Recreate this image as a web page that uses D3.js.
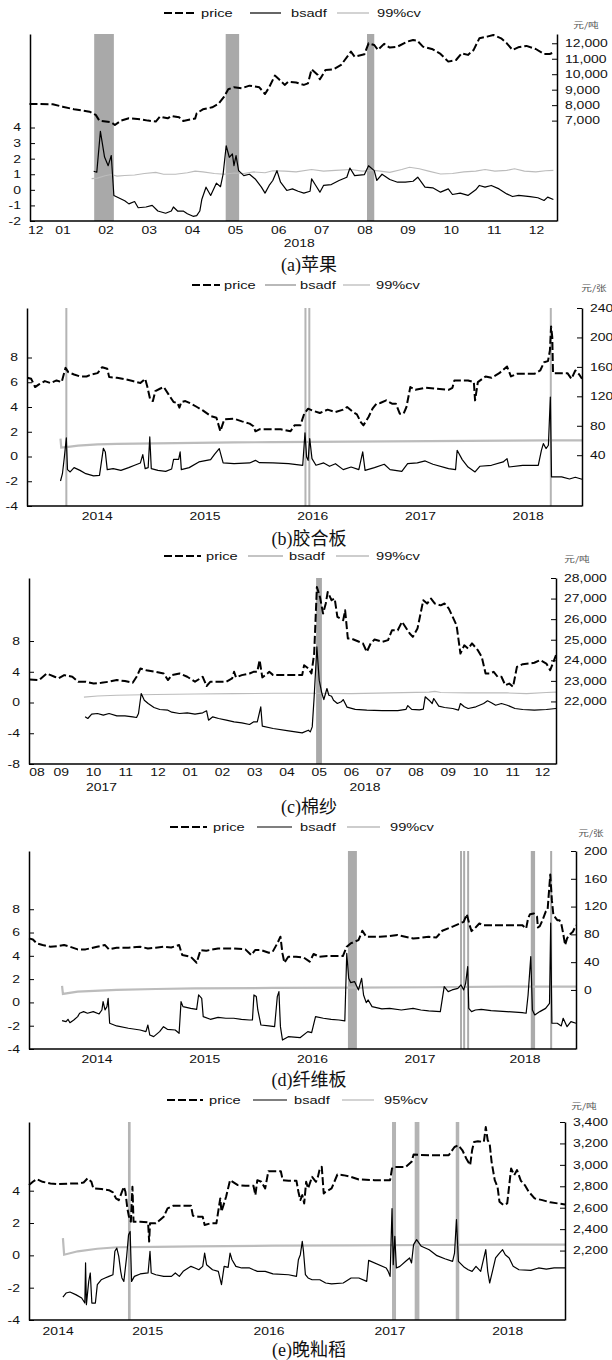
<!DOCTYPE html>
<html>
<head>
<meta charset="utf-8">
<script src="https://cdn.jsdelivr.net/npm/d3@7"></script>
<style>
  body { margin: 0; background: #fff; }
  svg text { fill: #111; }
</style>
</head>
<body>
<script>
// x values are decimal years, left axis = bsadf / cv, right axis = price

// (a) apple
const applePrice = [[2017.977,8080],[2018.022,8060],[2018.041,7900],[2018.063,7730],[2018.093,7580],[2018.105,7370],[2018.112,7000],[2018.135,6890],[2018.142,6720],[2018.154,7000],[2018.169,7150],[2018.191,7090],[2018.206,7000],[2018.221,6940],[2018.229,7260],[2018.244,7150],[2018.251,7300],[2018.266,7215],[2018.274,6980],[2018.297,7130],[2018.300,7475],[2018.312,7730],[2018.330,7860],[2018.342,8080],[2018.353,8550],[2018.361,9030],[2018.372,9155],[2018.387,9090],[2018.402,9260],[2018.421,9155],[2018.432,8720],[2018.440,9155],[2018.451,9910],[2018.459,9670],[2018.470,9310],[2018.477,9520],[2018.492,9460],[2018.507,9310],[2018.515,9410],[2018.522,10320],[2018.534,9950],[2018.538,9670],[2018.549,10280],[2018.564,10320],[2018.579,10600],[2018.598,11460],[2018.605,11140],[2018.624,11290],[2018.632,12000],[2018.643,11890],[2018.650,11570],[2018.662,11960],[2018.673,11720],[2018.688,11785],[2018.707,12110],[2018.718,12215],[2018.726,12170],[2018.737,11785],[2018.756,11610],[2018.771,11310],[2018.786,10815],[2018.801,10920],[2018.812,11350],[2018.824,11250],[2018.835,11570],[2018.846,12320],[2018.861,12430],[2018.873,12540],[2018.888,12320],[2018.899,12000],[2018.910,11570],[2018.921,11740],[2018.937,11830],[2018.955,11630],[2018.971,11310],[2018.982,11310],[2018.989,11400]];
const appleBsadf = [[2018.101,1.19],[2018.107,1.13],[2018.114,3.75],[2018.122,2.1],[2018.129,1.55],[2018.135,2.2],[2018.140,-0.36],[2018.161,-0.7],[2018.169,-0.9],[2018.180,-0.75],[2018.187,-1.15],[2018.202,-1.1],[2018.214,-1.0],[2018.225,-1.36],[2018.240,-1.5],[2018.251,-1.36],[2018.255,-1.1],[2018.263,-1.36],[2018.274,-1.36],[2018.282,-1.53],[2018.293,-1.7],[2018.300,-1.66],[2018.306,-1.36],[2018.310,-0.6],[2018.318,0.17],[2018.327,-0.36],[2018.338,0.43],[2018.346,0.2],[2018.351,1.0],[2018.357,2.83],[2018.363,2.09],[2018.369,2.3],[2018.372,1.55],[2018.376,2.2],[2018.381,1.23],[2018.391,0.91],[2018.402,1.0],[2018.413,0.7],[2018.425,0.17],[2018.432,-0.21],[2018.440,0.28],[2018.447,0.6],[2018.455,1.23],[2018.462,0.49],[2018.474,-0.04],[2018.485,0.06],[2018.496,-0.09],[2018.507,-0.21],[2018.519,-0.09],[2018.522,0.7],[2018.530,0.28],[2018.538,-0.15],[2018.545,0.28],[2018.560,0.34],[2018.575,0.6],[2018.590,0.81],[2018.596,1.4],[2018.605,0.91],[2018.624,0.98],[2018.632,1.55],[2018.643,1.23],[2018.648,0.6],[2018.658,1.0],[2018.673,0.66],[2018.688,0.49],[2018.703,0.49],[2018.718,0.55],[2018.727,0.81],[2018.741,0.17],[2018.756,0.13],[2018.771,-0.15],[2018.786,0.06],[2018.794,-0.3],[2018.809,-0.21],[2018.824,-0.36],[2018.839,0],[2018.846,0.28],[2018.857,0.17],[2018.869,0.28],[2018.884,0.06],[2018.899,-0.26],[2018.910,-0.43],[2018.922,-0.36],[2018.944,-0.43],[2018.959,-0.51],[2018.971,-0.68],[2018.978,-0.47],[2018.989,-0.62]];
const appleCv = [[2018.097,0.72],[2018.108,0.75],[2018.123,0.9],[2018.135,0.98],[2018.146,0.88],[2018.161,0.92],[2018.180,0.95],[2018.199,1.05],[2018.221,1.12],[2018.236,1.0],[2018.259,1.0],[2018.282,1.1],[2018.297,1.2],[2018.312,1.15],[2018.334,1.05],[2018.353,1.0],[2018.372,1.08],[2018.391,1.05],[2018.410,1.15],[2018.432,1.1],[2018.447,1.22],[2018.470,1.2],[2018.492,1.15],[2018.522,1.3],[2018.545,1.2],[2018.568,1.25],[2018.598,1.3],[2018.620,1.2],[2018.643,1.25],[2018.673,1.12],[2018.696,1.3],[2018.711,1.45],[2018.730,1.35],[2018.748,1.2],[2018.771,1.02],[2018.794,1.05],[2018.816,1.15],[2018.839,1.2],[2018.857,1.3],[2018.876,1.2],[2018.899,1.25],[2018.914,1.35],[2018.933,1.2],[2018.955,1.15],[2018.974,1.22],[2018.989,1.25]];
const appleBubbles = [[2018.102,2018.140],[2018.356,2018.382],[2018.629,2018.643]];
const appleMonths = ["2017-12","2018-01","2018-02","2018-03","2018-04","2018-05","2018-06","2018-07","2018-08","2018-09","2018-10","2018-11","2018-12"];
const appleYears = [2018];
const appleRightTicks = [7000,8000,9000,10000,11000,12000];

// (b) plywood
const plywoodPrice = [[2013.850,145.2],[2013.886,143.8],[2013.922,132.6],[2013.958,136.2],[2014.013,140.7],[2014.067,138.0],[2014.121,141.6],[2014.169,139.3],[2014.183,147.0],[2014.205,158.7],[2014.230,152.9],[2014.284,149.7],[2014.339,147.0],[2014.400,147.0],[2014.447,149.7],[2014.502,151.5],[2014.545,159.6],[2014.592,157.4],[2014.610,146.1],[2014.683,145.2],[2014.755,143.4],[2014.828,140.7],[2014.900,138.0],[2014.944,143.8],[2014.965,132.6],[2014.991,115.4],[2015.016,113.6],[2015.038,127.1],[2015.081,130.3],[2015.117,132.6],[2015.161,122.6],[2015.208,112.2],[2015.244,110.9],[2015.262,104.6],[2015.280,112.2],[2015.317,113.6],[2015.371,110.0],[2015.425,105.5],[2015.479,100.9],[2015.552,93.3],[2015.606,91.0],[2015.642,72.5],[2015.679,88.8],[2015.769,89.7],[2015.842,86.0],[2015.914,82.9],[2015.950,79.3],[2015.968,72.5],[2016.005,75.2],[2016.095,75.2],[2016.204,75.2],[2016.294,72.5],[2016.331,80.6],[2016.385,80.6],[2016.421,96.4],[2016.457,103.2],[2016.493,100.9],[2016.566,97.3],[2016.638,101.9],[2016.711,98.7],[2016.783,101.9],[2016.819,105.5],[2016.874,98.7],[2016.910,95.5],[2016.946,85.1],[2016.971,80.6],[2017.018,91.9],[2017.055,103.2],[2017.091,110.0],[2017.127,110.9],[2017.182,114.5],[2017.236,110.0],[2017.272,110.0],[2017.308,96.4],[2017.344,96.4],[2017.370,105.5],[2017.406,132.6],[2017.453,128.9],[2017.544,131.6],[2017.761,128.9],[2017.797,131.6],[2017.815,141.6],[2017.942,141.6],[2017.996,139.3],[2018.007,114.5],[2018.033,139.3],[2018.105,147.0],[2018.159,145.2],[2018.232,151.5],[2018.304,160.5],[2018.340,147.0],[2018.395,150.6],[2018.558,150.6],[2018.612,155.1],[2018.648,166.4],[2018.684,167.8],[2018.702,182.2],[2018.713,215.0],[2018.724,200.3],[2018.731,151.5],[2018.865,151.5],[2018.902,143.8],[2018.938,155.1],[2018.974,149.7],[2019.0,143.8]];
const plywoodBsadf = [[2014.158,-1.98],[2014.176,-1.39],[2014.194,-0.04],[2014.212,1.50],[2014.223,-1.06],[2014.248,-1.25],[2014.284,-0.90],[2014.339,-1.12],[2014.393,-1.39],[2014.465,-1.57],[2014.520,-1.52],[2014.538,-0.44],[2014.556,0.66],[2014.574,0.37],[2014.592,-1.06],[2014.647,-0.98],[2014.719,-1.12],[2014.791,-0.90],[2014.846,-0.71],[2014.900,-0.52],[2014.922,0.15],[2014.944,-0.98],[2014.972,-0.90],[2014.987,1.58],[2015.001,-0.98],[2015.063,-1.12],[2015.135,-1.20],[2015.190,-1.01],[2015.208,-0.23],[2015.255,-0.23],[2015.269,0.37],[2015.280,-1.06],[2015.353,-0.90],[2015.443,-0.44],[2015.552,-0.25],[2015.588,0.18],[2015.632,0.64],[2015.668,-0.52],[2015.769,-0.58],[2015.914,-0.52],[2015.968,-0.31],[2016.005,-0.50],[2016.131,-0.52],[2016.276,-0.58],[2016.407,-0.71],[2016.428,1.91],[2016.443,-0.04],[2016.457,-0.31],[2016.472,1.45],[2016.493,-0.17],[2016.530,-0.71],[2016.602,-0.52],[2016.656,-0.79],[2016.711,-0.58],[2016.783,-1.06],[2016.856,-0.85],[2016.928,-1.06],[2016.964,0.37],[2016.986,-1.12],[2017.073,-0.90],[2017.164,-0.63],[2017.218,-1.06],[2017.327,-1.20],[2017.381,-0.58],[2017.471,-0.52],[2017.544,-0.36],[2017.616,-0.63],[2017.761,-0.98],[2017.826,-1.06],[2017.841,0.50],[2017.888,-0.25],[2017.942,-0.85],[2018.007,-1.25],[2018.051,-0.79],[2018.159,-0.71],[2018.268,-0.44],[2018.304,-0.17],[2018.322,-0.85],[2018.449,-0.71],[2018.594,-0.71],[2018.623,0.50],[2018.641,1.04],[2018.666,0.64],[2018.688,0.91],[2018.706,4.8],[2018.717,-1.65],[2018.811,-1.65],[2018.884,-1.82],[2018.938,-1.68],[2019.0,-1.84]];
const plywoodCv = [[2014.158,1.45],[2014.165,0.72],[2014.230,0.78],[2014.321,0.88],[2014.502,0.98],[2014.683,1.02],[2015.045,1.06],[2015.407,1.10],[2015.769,1.14],[2016.131,1.16],[2016.493,1.18],[2016.856,1.20],[2017.218,1.22],[2017.580,1.24],[2017.942,1.26],[2018.304,1.28],[2018.666,1.30],[2019.0,1.30]];
const plywoodBubbles = [[2014.203,2014.221],[2016.423,2016.441],[2016.459,2016.477],[2018.701,2018.719]];
const plywoodYears = [2014,2015,2016,2017,2018];
const plywoodRightTicks = [40,80,120,160,200,240];

// (c) cotton yarn
const yarnPrice = [[2017.626,23070],[2017.651,23040],[2017.671,23360],[2017.681,23280],[2017.691,23200],[2017.701,23120],[2017.716,23280],[2017.737,23200],[2017.752,22960],[2017.772,22960],[2017.792,22870],[2017.812,22910],[2017.832,22960],[2017.852,23040],[2017.873,22990],[2017.893,22910],[2017.903,23200],[2017.913,23600],[2017.928,23520],[2017.953,23440],[2017.973,23360],[2017.984,23040],[2017.994,23280],[2018.014,23360],[2018.034,23200],[2018.054,22960],[2018.074,23200],[2018.084,22750],[2018.094,22960],[2018.115,22960],[2018.135,22960],[2018.150,23120],[2018.155,23440],[2018.160,23170],[2018.175,23280],[2018.195,23360],[2018.205,23440],[2018.215,23440],[2018.221,24010],[2018.228,23170],[2018.236,23280],[2018.246,23440],[2018.256,23280],[2018.276,23280],[2018.296,23280],[2018.316,23280],[2018.331,23280],[2018.336,23760],[2018.347,23600],[2018.355,23360],[2018.362,24330],[2018.369,27560],[2018.377,27080],[2018.385,26270],[2018.392,26760],[2018.397,27320],[2018.407,26920],[2018.415,27000],[2018.422,26110],[2018.437,25950],[2018.442,26430],[2018.449,25060],[2018.457,25060],[2018.478,24900],[2018.488,24820],[2018.498,24410],[2018.508,24820],[2018.518,25010],[2018.538,24900],[2018.553,24980],[2018.563,25460],[2018.578,25460],[2018.589,25870],[2018.609,25300],[2018.617,25140],[2018.629,25540],[2018.644,26920],[2018.654,26760],[2018.664,27000],[2018.674,26760],[2018.689,26670],[2018.699,26760],[2018.710,26510],[2018.720,26110],[2018.730,25700],[2018.740,24330],[2018.750,24730],[2018.760,24570],[2018.770,24820],[2018.785,24490],[2018.795,24170],[2018.805,23360],[2018.815,23360],[2018.826,23440],[2018.836,23200],[2018.846,23200],[2018.856,22790],[2018.866,22870],[2018.876,22710],[2018.886,23680],[2018.901,23810],[2018.916,23840],[2018.931,23880],[2018.946,24010],[2018.962,23840],[2018.972,23520],[2018.987,24250]];
const yarnBsadf = [[2017.770,-1.86],[2017.777,-2.08],[2017.787,-1.52],[2017.802,-1.43],[2017.817,-1.65],[2017.832,-1.43],[2017.852,-1.73],[2017.873,-1.73],[2017.893,-1.86],[2017.903,-1.95],[2017.908,-1.43],[2017.915,1.17],[2017.923,0.30],[2017.933,-0.13],[2017.948,-0.65],[2017.963,-0.91],[2017.984,-1.0],[2017.994,-1.26],[2018.014,-1.43],[2018.034,-1.34],[2018.054,-1.52],[2018.074,-1.34],[2018.084,-1.08],[2018.089,-2.30],[2018.100,-1.86],[2018.115,-2.08],[2018.135,-2.30],[2018.155,-2.52],[2018.175,-2.65],[2018.195,-2.86],[2018.205,-2.52],[2018.215,-2.52],[2018.224,-0.56],[2018.228,-3.08],[2018.256,-3.38],[2018.296,-3.69],[2018.331,-3.95],[2018.347,-3.60],[2018.352,-3.82],[2018.357,-3.17],[2018.362,0.74],[2018.369,7.24],[2018.375,2.91],[2018.382,1.17],[2018.387,0.39],[2018.395,1.82],[2018.400,0.95],[2018.407,0.82],[2018.412,0.30],[2018.422,-0.13],[2018.432,0.09],[2018.437,0.39],[2018.447,-0.6],[2018.468,-0.9],[2018.498,-1.0],[2018.538,-1.05],[2018.578,-1.05],[2018.599,-0.9],[2018.604,-0.4],[2018.614,-0.9],[2018.634,-0.95],[2018.644,-0.85],[2018.649,0.74],[2018.659,0.30],[2018.667,-0.13],[2018.671,0.52],[2018.684,-0.48],[2018.699,-0.65],[2018.720,-0.78],[2018.735,-1.0],[2018.740,-0.13],[2018.750,-0.56],[2018.760,-0.78],[2018.780,-0.56],[2018.800,-0.13],[2018.810,0.22],[2018.820,-0.04],[2018.831,-0.35],[2018.846,-0.13],[2018.861,-0.35],[2018.881,-0.78],[2018.901,-0.91],[2018.931,-1.0],[2018.962,-0.91],[2018.987,-0.78]];
const yarnCv = [[2017.767,0.7],[2017.802,0.85],[2017.852,0.95],[2017.953,1.05],[2018.054,1.1],[2018.155,1.15],[2018.256,1.2],[2018.357,1.2],[2018.457,1.15],[2018.558,1.25],[2018.659,1.35],[2018.674,1.45],[2018.689,1.3],[2018.760,1.25],[2018.861,1.25],[2018.911,1.15],[2018.962,1.3],[2018.987,1.35]];
const yarnBubbles = [[2018.367,2018.382]];
const yarnMonths = ["2017-08","2017-09","2017-10","2017-11","2017-12","2018-01","2018-02","2018-03","2018-04","2018-05","2018-06","2018-07","2018-08","2018-09","2018-10","2018-11","2018-12"];
const yarnYears = [2017,2018];
const yarnRightTicks = [22000,23000,24000,25000,26000,27000,28000];

// (d) fibreboard
const fiberPrice = [[2013.868,74.2],[2013.904,72.7],[2013.940,67.0],[2013.994,64.6],[2014.067,62.2],[2014.139,63.2],[2014.194,64.6],[2014.248,62.2],[2014.320,58.4],[2014.393,58.4],[2014.501,62.2],[2014.574,64.6],[2014.610,58.4],[2014.682,60.8],[2014.791,60.8],[2014.900,62.2],[2014.972,59.8],[2015.045,60.8],[2015.117,62.2],[2015.189,61.2],[2015.262,64.6],[2015.291,50.2],[2015.370,47.8],[2015.425,39.2],[2015.461,57.4],[2015.515,56.5],[2015.624,59.8],[2015.769,59.8],[2015.877,58.4],[2015.932,50.2],[2015.968,57.4],[2016.022,57.4],[2016.095,53.6],[2016.131,55.0],[2016.174,67.0],[2016.203,76.6],[2016.222,52.6],[2016.240,39.2],[2016.276,47.8],[2016.348,47.8],[2016.421,46.4],[2016.475,40.7],[2016.511,51.7],[2016.565,47.8],[2016.638,48.8],[2016.710,48.8],[2016.783,48.8],[2016.819,62.2],[2016.855,67.0],[2016.928,71.8],[2016.964,85.2],[2017.000,76.6],[2017.073,76.6],[2017.127,76.6],[2017.217,77.5],[2017.290,79.0],[2017.362,76.6],[2017.435,74.2],[2017.507,75.1],[2017.580,76.6],[2017.652,75.6],[2017.706,85.2],[2017.797,90.9],[2017.869,95.7],[2017.905,98.1],[2017.934,109.1],[2017.960,93.3],[2017.978,84.7],[2018.007,88.5],[2018.050,95.7],[2018.087,93.3],[2018.195,93.3],[2018.304,93.3],[2018.449,93.3],[2018.485,88.5],[2018.503,102.9],[2018.521,109.1],[2018.557,110.0],[2018.586,105.3],[2018.594,90.0],[2018.612,91.9],[2018.637,100.5],[2018.666,112.4],[2018.684,114.8],[2018.709,166.0],[2018.724,129.2],[2018.738,107.7],[2018.774,100.5],[2018.793,100.5],[2018.811,95.7],[2018.829,81.3],[2018.847,64.6],[2018.865,74.2],[2018.883,79.0],[2018.919,83.7],[2018.948,93.3]];
const fiberBsadf = [[2014.175,-1.56],[2014.212,-1.65],[2014.230,-1.45],[2014.248,-1.74],[2014.284,-1.51],[2014.320,-1.22],[2014.338,-0.93],[2014.375,-0.79],[2014.411,-0.93],[2014.465,-0.79],[2014.519,-0.99],[2014.545,-0.65],[2014.556,0.07],[2014.574,-0.65],[2014.592,-0.36],[2014.603,0.35],[2014.617,-1.79],[2014.682,-2.02],[2014.791,-2.22],[2014.900,-2.37],[2014.954,-2.51],[2014.972,-1.94],[2014.990,-2.80],[2015.026,-2.94],[2015.081,-2.51],[2015.117,-2.08],[2015.153,-2.31],[2015.226,-2.37],[2015.262,-2.65],[2015.280,0.07],[2015.298,-0.36],[2015.370,-0.51],[2015.425,-0.59],[2015.443,0.64],[2015.472,0.35],[2015.486,-1.22],[2015.552,-1.45],[2015.624,-1.28],[2015.696,-1.36],[2015.769,-1.36],[2015.841,-1.45],[2015.914,-1.51],[2015.943,-1.51],[2015.957,0.64],[2015.979,0.50],[2015.993,-0.65],[2016.022,-1.94],[2016.095,-2.02],[2016.149,-2.08],[2016.174,0.50],[2016.189,0.93],[2016.203,-2.08],[2016.222,-3.23],[2016.276,-2.94],[2016.385,-3.03],[2016.457,-2.51],[2016.493,-2.60],[2016.529,-1.22],[2016.602,-1.36],[2016.674,-1.45],[2016.747,-1.51],[2016.801,-1.59],[2016.819,4.22],[2016.837,2.07],[2016.855,1.70],[2016.891,1.79],[2016.928,1.07],[2016.957,2.07],[2016.975,0.64],[2017.000,-0.02],[2017.018,0.21],[2017.054,-0.36],[2017.145,-0.56],[2017.217,-0.51],[2017.326,-0.65],[2017.435,-0.51],[2017.507,-0.65],[2017.580,-0.73],[2017.688,-0.79],[2017.724,1.36],[2017.761,0.93],[2017.797,1.07],[2017.851,1.21],[2017.880,1.50],[2017.905,1.07],[2017.923,1.64],[2017.942,3.07],[2017.952,-0.51],[2017.978,-0.79],[2018.014,-0.65],[2018.068,-0.59],[2018.159,-0.71],[2018.304,-0.79],[2018.449,-0.88],[2018.485,-0.93],[2018.503,0.64],[2018.528,3.93],[2018.543,-0.65],[2018.565,-1.08],[2018.612,-0.79],[2018.666,-0.51],[2018.702,-0.08],[2018.713,6.80],[2018.724,-1.79],[2018.774,-1.79],[2018.811,-2.02],[2018.829,-1.36],[2018.865,-2.08],[2018.901,-1.65],[2018.948,-1.79]];
const fiberCv = [[2014.175,1.41],[2014.183,0.73],[2014.320,0.93],[2014.682,1.07],[2015.045,1.15],[2015.407,1.21],[2016.131,1.24],[2016.855,1.27],[2017.580,1.30],[2018.304,1.36],[2018.948,1.36]];
const fiberBubbles = [[2016.830,2016.913],[2017.871,2017.881],[2017.900,2017.910],[2017.937,2017.947],[2018.528,2018.568],[2018.708,2018.718]];
const fiberYears = [2014,2015,2016,2017,2018];
const fiberRightTicks = [0,40,80,120,160,200];

// (e) late indica rice
const ricePrice = [[2014.519,2811],[2014.551,2842],[2014.583,2867],[2014.631,2842],[2014.696,2826],[2014.760,2820],[2014.857,2826],[2014.922,2826],[2014.970,2836],[2015.002,2873],[2015.034,2842],[2015.050,2780],[2015.115,2774],[2015.179,2764],[2015.212,2743],[2015.237,2687],[2015.260,2671],[2015.276,2718],[2015.302,2795],[2015.315,2749],[2015.331,2594],[2015.347,2501],[2015.360,2470],[2015.373,2795],[2015.382,2470],[2015.437,2470],[2015.502,2463],[2015.511,2284],[2015.518,2454],[2015.566,2454],[2015.631,2516],[2015.663,2594],[2015.711,2619],[2015.760,2619],[2015.856,2619],[2015.872,2526],[2015.921,2516],[2015.953,2516],[2015.969,2439],[2016.017,2454],[2016.066,2454],[2016.098,2687],[2016.108,2563],[2016.146,2702],[2016.179,2857],[2016.243,2811],[2016.307,2805],[2016.372,2805],[2016.388,2718],[2016.404,2857],[2016.437,2842],[2016.469,2780],[2016.495,2941],[2016.533,2941],[2016.598,2941],[2016.614,2857],[2016.662,2851],[2016.727,2851],[2016.743,2749],[2016.759,2671],[2016.775,2718],[2016.791,2640],[2016.807,2842],[2016.823,2780],[2016.856,2888],[2016.888,2842],[2016.904,2888],[2016.920,2966],[2016.936,2981],[2016.952,2733],[2016.968,2749],[2017.017,2780],[2017.065,2910],[2017.113,2904],[2017.178,2888],[2017.242,2864],[2017.371,2857],[2017.500,2857],[2017.516,2966],[2017.532,2981],[2017.629,2981],[2017.677,3028],[2017.694,3096],[2017.823,3090],[2017.984,3090],[2018.032,3167],[2018.064,3183],[2018.097,3136],[2018.129,3059],[2018.161,2997],[2018.177,3136],[2018.193,3214],[2018.225,3220],[2018.274,3214],[2018.290,3353],[2018.306,3229],[2018.322,3198],[2018.338,3028],[2018.364,2857],[2018.387,2795],[2018.403,2656],[2018.435,2625],[2018.467,2640],[2018.499,2966],[2018.525,2904],[2018.548,2951],[2018.580,2851],[2018.612,2811],[2018.645,2749],[2018.693,2687],[2018.757,2671],[2018.822,2650],[2018.886,2640],[2018.944,2631]];
const riceBsadf = [[2014.799,-2.58],[2014.825,-2.33],[2014.857,-2.27],[2014.905,-2.43],[2014.954,-2.64],[2014.980,-2.95],[2014.986,-0.47],[2014.993,-3.05],[2015.012,-1.61],[2015.025,-1.09],[2015.038,-2.95],[2015.067,-2.95],[2015.083,-1.81],[2015.115,-1.51],[2015.147,-1.40],[2015.179,-1.30],[2015.212,-1.20],[2015.228,0.25],[2015.244,0.45],[2015.260,-0.06],[2015.276,-0.99],[2015.286,-1.40],[2015.302,-1.61],[2015.324,-0.16],[2015.341,1.28],[2015.354,1.48],[2015.366,-1.61],[2015.389,-1.30],[2015.437,-1.15],[2015.502,-1.09],[2015.518,0.25],[2015.528,-1.09],[2015.566,-1.20],[2015.631,-1.30],[2015.695,-1.30],[2015.727,-1.09],[2015.760,-1.30],[2015.792,-0.99],[2015.856,-0.68],[2015.889,-0.78],[2015.921,-0.89],[2015.953,-0.68],[2015.969,0.14],[2015.985,-0.58],[2016.034,-0.89],[2016.082,-0.99],[2016.108,-1.81],[2016.130,-0.68],[2016.163,-0.74],[2016.179,0.14],[2016.195,-0.27],[2016.227,-0.68],[2016.275,-0.78],[2016.340,-0.78],[2016.372,-0.89],[2016.404,-0.99],[2016.469,-0.99],[2016.533,-1.15],[2016.662,-1.20],[2016.727,-1.30],[2016.743,-0.27],[2016.759,0.04],[2016.775,0.87],[2016.785,0.25],[2016.801,-1.20],[2016.823,-1.40],[2016.856,-1.51],[2016.920,-1.51],[2016.968,-1.71],[2017.017,-1.77],[2017.113,-1.71],[2017.178,-1.40],[2017.242,-1.40],[2017.307,-1.61],[2017.323,-0.31],[2017.468,-0.78],[2017.484,-0.99],[2017.500,-1.30],[2017.516,2.89],[2017.526,-0.58],[2017.539,1.18],[2017.552,-0.78],[2017.581,-0.68],[2017.629,-0.37],[2017.661,-0.16],[2017.677,-0.47],[2017.694,0.66],[2017.719,0.97],[2017.758,0.56],[2017.823,0.35],[2017.887,-0.02],[2017.952,-0.21],[2018.016,-0.37],[2018.032,0.14],[2018.048,2.21],[2018.064,-0.37],[2018.113,-0.74],[2018.145,-0.89],[2018.177,-0.99],[2018.209,-0.68],[2018.248,-0.99],[2018.274,-0.16],[2018.290,0.35],[2018.306,-0.99],[2018.322,-1.71],[2018.345,-0.99],[2018.371,-0.16],[2018.403,0.14],[2018.429,0.35],[2018.451,0.04],[2018.483,-0.16],[2018.516,-0.68],[2018.564,-0.89],[2018.661,-0.93],[2018.725,-0.78],[2018.790,-0.85],[2018.854,-0.78],[2018.944,-0.78]];
const riceCv = [[2014.799,1.07],[2014.809,0.04],[2014.922,0.25],[2015.083,0.41],[2015.244,0.50],[2015.566,0.52],[2015.889,0.56],[2016.533,0.60],[2017.178,0.62],[2017.823,0.64],[2018.467,0.66],[2018.944,0.66]];
const riceBubbles = [[2015.336,2015.358],[2017.516,2017.549],[2017.703,2017.742],[2018.042,2018.071]];
const riceYears = [2014,2015,2016,2017,2018];
const riceRightTicks = [2200,2400,2600,2800,3000,3200,3400];

const SX = 1.33; // the source picture is stretched sideways
const FONT = "'Liberation Sans', Arial, sans-serif";

const panels = [
  {price: applePrice, bsadf: appleBsadf, cv: appleCv, shades: appleBubbles, months: appleMonths, years: appleYears,
   rightTicks: appleRightTicks, rightFmt: d3.format(","), leftTicks: [-2,-1,0,1,2,3,4], cvName: "99%cv", unit: "元/吨", tag: "(a)", name: "苹果",
   left: 30, right: 557, top: 34, bottom: 221, xDomain: [2017.978, 2018.996], yLeft: [-2, 10], yRight: [510, 12600],
   monthY: 230, yearY: 243, legendY: 13, legend: [[164,197,201],[250,281,291],[337,369,377]], legendBsadf: "#000",
   unitX: 586, unitY: 25, capY: 264, shadeFill: "#a9a9a9", cvW: 1.1},
  {price: plywoodPrice, bsadf: plywoodBsadf, cv: plywoodCv, shades: plywoodBubbles, months: null, years: plywoodYears,
   rightTicks: plywoodRightTicks, rightFmt: d3.format("d"), leftTicks: [-4,-2,0,2,4,6,8], cvName: "99%cv", unit: "元/张", tag: "(b)", name: "胶合板",
   left: 27, right: 582, top: 308, bottom: 506, xDomain: [2013.847, 2019.0], yLeft: [-4, 12], yRight: [-29, 240],
   yearY: 516, legendY: 285, legend: [[192,220,224],[265,296,300],[343,370,376]], legendBsadf: "#8a8a8a",
   unitX: 594, unitY: 288, capY: 538, shadeFill: "#b4b4b4", cvW: 2.2},
  {price: yarnPrice, bsadf: yarnBsadf, cv: yarnCv, shades: yarnBubbles, months: yarnMonths, years: yarnYears,
   rightTicks: yarnRightTicks, rightFmt: d3.format(","), leftTicks: [-8,-4,0,4,8], cvName: "99%cv", unit: "元/吨", tag: "(c)", name: "棉纱",
   left: 29, right: 556, top: 578, bottom: 764, xDomain: [2017.625, 2018.987], yLeft: [-8, 16.2], yRight: [18960, 28000],
   monthY: 772, yearY: 787, legendY: 556, legend: [[164,201,206],[248,283,289],[336,369,376]], legendBsadf: "#8a8a8a",
   unitX: 577, unitY: 559, capY: 806, shadeFill: "#a9a9a9", cvW: 1.1},
  {price: fiberPrice, bsadf: fiberBsadf, cv: fiberCv, shades: fiberBubbles, months: null, years: fiberYears,
   rightTicks: fiberRightTicks, rightFmt: d3.format("d"), leftTicks: [-4,-2,0,2,4,6,8], cvName: "99%cv", unit: "元/张", tag: "(d)", name: "纤维板",
   left: 29, right: 576, top: 851, bottom: 1049, xDomain: [2013.868, 2018.948], yLeft: [-4, 13], yRight: [-85, 200],
   yearY: 1059, legendY: 827, legend: [[170,207,213],[257,292,300],[347,380,390]], legendBsadf: "#000",
   unitX: 591, unitY: 833, capY: 1079, shadeFill: "#ababab", cvW: 2.2},
  {price: ricePrice, bsadf: riceBsadf, cv: riceCv, shades: riceBubbles, months: null, years: riceYears,
   rightTicks: riceRightTicks, rightFmt: d3.format(","), leftTicks: [-4,-2,0,2,4], cvName: "95%cv", unit: "元/吨", tag: "(e)", name: "晚籼稻",
   left: 29, right: 565, top: 1122, bottom: 1320, xDomain: [2014.519, 2018.944], yLeft: [-4, 8.25], yRight: [1552, 3400],
   yearY: 1331, legendY: 1100, legend: [[167,203,209],[253,287,294],[342,374,384]], legendBsadf: "#000",
   unitX: 584, unitY: 1106, capY: 1349, shadeFill: "#b4b4b4", cvW: 2.2}
];

const svg = d3.select("body").append("svg")
  .attr("width", 612).attr("height", 1360)
  .attr("font-family", FONT);

// text drawn wider than the font, like the source
function wideText(g, x, y, str, anchor, size) {
  return g.append("text")
    .attr("transform", "translate(" + x + "," + y + ") scale(" + SX + ",1)")
    .attr("text-anchor", anchor)
    .attr("font-size", size)
    .text(str);
}

function spanCenter(a, b, dom) {
  return (Math.max(a, dom[0]) + Math.min(b, dom[1])) / 2;
}

panels.forEach(function(p) {
  const g = svg.append("g");
  const x = d3.scaleLinear().domain(p.xDomain).range([p.left, p.right]);
  const yL = d3.scaleLinear().domain(p.yLeft).range([p.bottom, p.top]);
  const yR = d3.scaleLinear().domain(p.yRight).range([p.bottom, p.top]);

  // bubble periods
  g.selectAll("rect.shade").data(p.shades).enter().append("rect")
    .attr("class", "shade")
    .attr("x", d => x(d[0]))
    .attr("width", d => Math.max(2, x(d[1]) - x(d[0])))
    .attr("y", p.top)
    .attr("height", p.bottom - p.top)
    .attr("fill", p.shadeFill);

  const lineL = d3.line().x(d => x(d[0])).y(d => yL(d[1]));
  const lineR = d3.line().x(d => x(d[0])).y(d => yR(d[1]));

  g.append("path").attr("d", lineL(p.cv))
    .attr("fill", "none").attr("stroke", "#bcbcbc").attr("stroke-width", p.cvW);
  g.append("path").attr("d", lineL(p.bsadf))
    .attr("fill", "none").attr("stroke", "#000").attr("stroke-width", 1.2)
    .attr("stroke-linejoin", "round");
  g.append("path").attr("d", lineR(p.price))
    .attr("fill", "none").attr("stroke", "#000").attr("stroke-width", 2)
    .attr("stroke-dasharray", "8,3").attr("stroke-linejoin", "round");

  // left axis, ticks pointing in
  const gl = g.append("g").attr("transform", "translate(" + p.left + ",0)")
    .call(d3.axisLeft(yL).tickValues(p.leftTicks).tickSize(-5).tickSizeOuter(0).tickPadding(9)
      .tickFormat(d => String(d)));
  gl.attr("font-family", FONT).attr("font-size", 10.5);
  gl.select(".domain").attr("stroke-width", 1.5);
  gl.selectAll(".tick text").attr("x", -9 / SX).attr("transform", "scale(" + SX + ",1)").attr("fill", "#111");

  // right axis
  const gr = g.append("g").attr("transform", "translate(" + p.right + ",0)")
    .call(d3.axisRight(yR).tickValues(p.rightTicks).tickSize(-5).tickSizeOuter(0).tickPadding(8)
      .tickFormat(p.rightFmt));
  gr.attr("font-family", FONT).attr("font-size", 10.5);
  gr.select(".domain").attr("stroke-width", 1.5);
  gr.selectAll(".tick text").attr("x", 8 / SX).attr("transform", "scale(" + SX + ",1)").attr("fill", "#111");

  // bottom line
  g.append("line").attr("x1", p.left).attr("x2", p.right)
    .attr("y1", p.bottom).attr("y2", p.bottom)
    .attr("stroke", "#000").attr("stroke-width", 1.5);

  // month and year labels, centred in the visible part of each period
  if (p.months) {
    p.months.forEach(function(s) {
      const yr = +s.slice(0, 4), m = +s.slice(5);
      const c = spanCenter(yr + (m - 1) / 12, yr + m / 12, p.xDomain);
      wideText(g, x(c), p.monthY + 4, s.slice(5), "middle", 10.5);
    });
  }
  p.years.forEach(function(yr) {
    const c = spanCenter(yr, yr + 1, p.xDomain);
    wideText(g, x(c), p.yearY + 4, String(yr), "middle", 10.5);
  });

  // unit
  wideText(g, p.unitX, p.unitY + 3, p.unit, "middle", 8)
    .attr("font-family", "'Noto Sans CJK SC', sans-serif").style("fill", "#555");

  // legend
  const ly = p.legendY;
  const items = [
    {name: "price", stroke: "#000", w: 2, dash: "8,3"},
    {name: "bsadf", stroke: p.legendBsadf, w: 1.2, dash: null},
    {name: p.cvName, stroke: "#bcbcbc", w: 1.3, dash: null}
  ];
  items.forEach(function(it, i) {
    const pos = p.legend[i];
    g.append("line").attr("x1", pos[0]).attr("x2", pos[1]).attr("y1", ly).attr("y2", ly)
      .attr("stroke", it.stroke).attr("stroke-width", it.w)
      .attr("stroke-dasharray", it.dash);
    wideText(g, pos[2], ly + 4, it.name, "start", 11);
  });

  // caption
  const cap = g.append("text").attr("x", 309).attr("y", p.capY + 7)
    .attr("text-anchor", "middle").attr("font-size", 18);
  cap.append("tspan").attr("font-family", "'Liberation Serif', 'Times New Roman', serif").text(p.tag);
  cap.append("tspan").attr("font-family", "'Noto Sans CJK SC', sans-serif").text(p.name);
});
</script>
</body>
</html>
